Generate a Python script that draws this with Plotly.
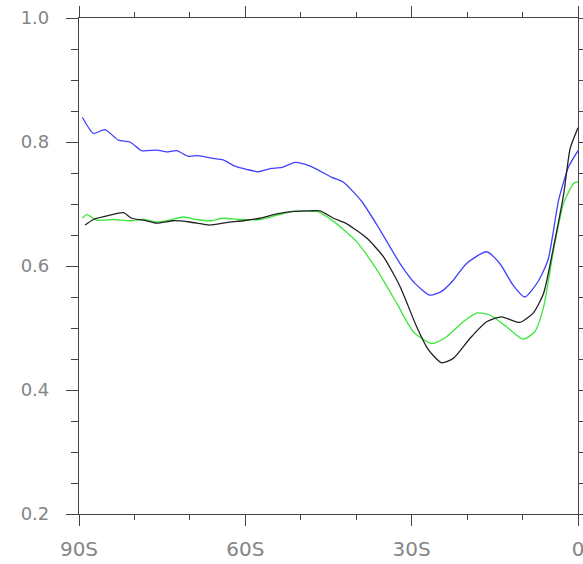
import plotly.graph_objects as go

# Latitudes (negative = south) and series values
lat_blue = [-89.4, -87.4, -85.3, -82.9, -80.8, -78.7, -76.0, -74.2, -72.4, -70.3, -68.5, -66.1,
            -64.0, -61.9, -59.8, -57.7, -55.5, -53.4, -51.0, -48.3, -44.4, -42.3, -39.0, -35.7,
            -32.1, -29.4, -26.7, -24.6, -22.5, -20.1, -16.5, -14.1, -11.7, -9.6, -7.2, -5.4,
            -3.5, -1.7, 0.0]
val_blue = [0.840, 0.814, 0.820, 0.803, 0.800, 0.786, 0.787, 0.784, 0.786, 0.777, 0.778, 0.774,
            0.771, 0.761, 0.756, 0.752, 0.757, 0.759, 0.767, 0.761, 0.743, 0.735, 0.704, 0.658,
            0.604, 0.572, 0.553, 0.559, 0.577, 0.604, 0.623, 0.604, 0.569, 0.550, 0.575, 0.610,
            0.706, 0.760, 0.786]

lat_black = [-88.9, -87.4, -84.4, -82.0, -80.5, -78.4, -76.0, -73.0, -70.0, -66.4, -63.4, -60.4,
             -57.4, -54.3, -51.3, -48.3, -46.5, -44.1, -41.7, -38.1, -35.1, -32.1, -29.1, -27.0,
             -24.6, -22.5, -19.5, -16.5, -13.8, -10.5, -8.1, -6.2, -4.4, -2.6, -1.4, 0.0]
val_black = [0.666, 0.675, 0.682, 0.686, 0.677, 0.674, 0.669, 0.673, 0.671, 0.666, 0.670, 0.673,
             0.677, 0.684, 0.688, 0.689, 0.689, 0.677, 0.668, 0.645, 0.615, 0.567, 0.502, 0.465,
             0.444, 0.451, 0.483, 0.510, 0.518, 0.509, 0.524, 0.556, 0.631, 0.715, 0.790, 0.823]

lat_green = [-89.4, -88.6, -86.8, -83.8, -80.8, -78.4, -76.0, -73.6, -71.2, -68.8, -66.4, -64.0,
             -61.0, -57.4, -54.3, -51.3, -47.1, -44.1, -39.9, -36.3, -32.7, -29.7, -26.4, -23.7,
             -20.7, -18.3, -15.9, -12.9, -9.9, -7.8, -6.2, -4.4, -2.6, -0.8, 0.0]
val_green = [0.677, 0.683, 0.674, 0.675, 0.673, 0.675, 0.671, 0.674, 0.679, 0.675, 0.673, 0.677,
             0.675, 0.675, 0.682, 0.688, 0.688, 0.672, 0.639, 0.594, 0.540, 0.494, 0.475, 0.486,
             0.510, 0.524, 0.521, 0.502, 0.482, 0.494, 0.534, 0.626, 0.701, 0.733, 0.736]

x_tickvals = [-90, -60, -30, 0]
x_ticktext = ["90S", "60S", "30S", "0"]
y_tickvals = [0.2, 0.4, 0.6, 0.8, 1.0]
y_ticktext = ["0.2", "0.4", "0.6", "0.8", "1.0"]

fig = go.Figure()
fig.add_trace(go.Scatter(x=lat_green, y=val_green, mode="lines",
                         line=dict(color="#3ce63c", width=1.3, shape="spline", smoothing=0.6)))
fig.add_trace(go.Scatter(x=lat_blue, y=val_blue, mode="lines",
                         line=dict(color="#4040ff", width=1.3, shape="spline", smoothing=0.6)))
fig.add_trace(go.Scatter(x=lat_black, y=val_black, mode="lines",
                         line=dict(color="#222222", width=1.3, shape="spline", smoothing=0.6)))

axis_common = dict(showgrid=False, zeroline=False, showline=True, linecolor="#444444",
                   linewidth=1.2, mirror="allticks", ticks="outside", tickcolor="#444444",
                   tickwidth=1.2, automargin=False, ticklabeloverflow="allow")

fig.update_xaxes(range=[-90, 0], tickvals=x_tickvals, ticktext=x_ticktext, ticklen=11,
                 ticklabelstandoff=6,
                 tickfont=dict(family="DejaVu Sans", size=20, color="#858585"),
                 minor=dict(tickvals=[-80, -70, -50, -40, -20, -10], ticks="outside",
                            ticklen=5, tickcolor="#444444", tickwidth=1),
                 **axis_common)
fig.update_yaxes(range=[0.2, 1.0], tickvals=y_tickvals, ticktext=y_ticktext, ticklen=12,
                 ticklabelstandoff=13,
                 tickfont=dict(family="DejaVu Sans", size=18, color="#858585"),
                 minor=dict(tickvals=[0.25, 0.3, 0.35, 0.45, 0.5, 0.55, 0.65, 0.7, 0.75, 0.85, 0.9, 0.95],
                            ticks="outside", ticklen=7, tickcolor="#444444", tickwidth=1),
                 **axis_common)
fig.update_layout(width=583, height=564, showlegend=False,
                  margin=dict(l=79, r=5, t=18, b=50),
                  plot_bgcolor="white", paper_bgcolor="white")
fig.write_html("out.html")
